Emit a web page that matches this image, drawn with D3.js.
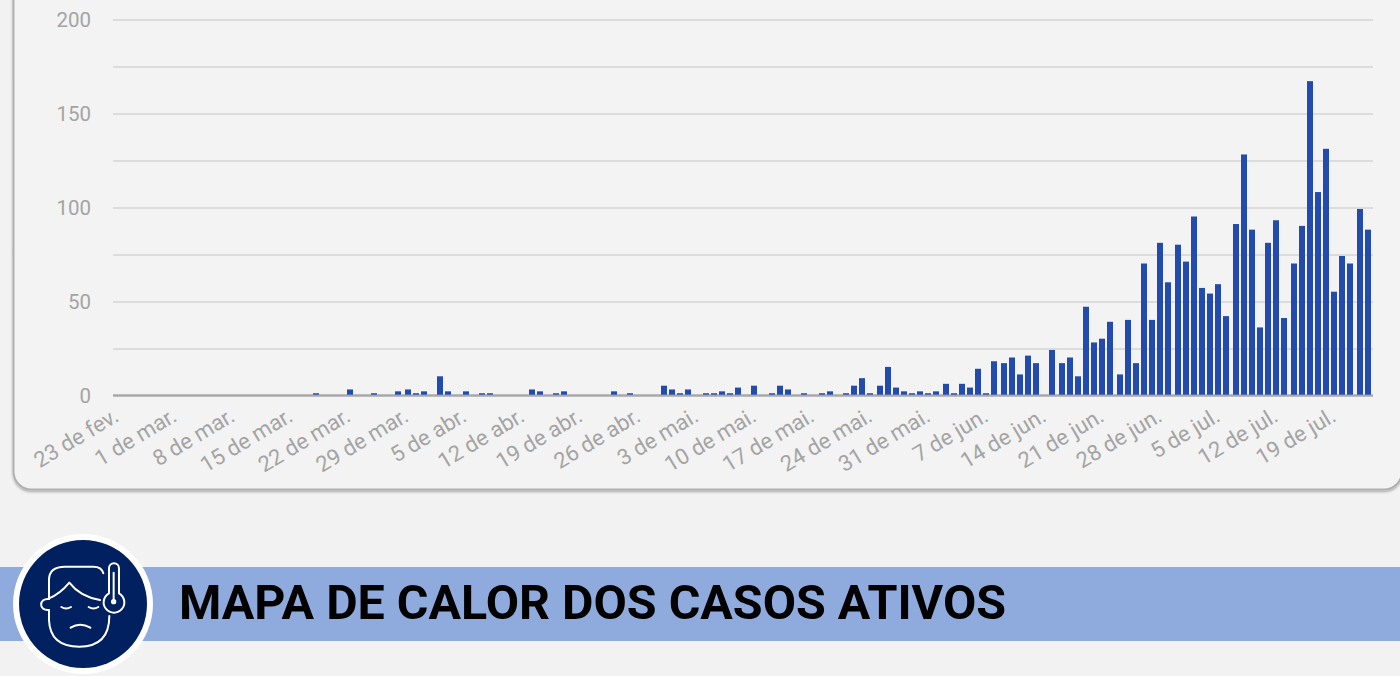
<!DOCTYPE html>
<html>
<head>
<meta charset="utf-8">
<script src="https://cdn.jsdelivr.net/npm/d3@7"></script>
<style>
  html, body { margin: 0; padding: 0; background: #f2f2f2; overflow: hidden; }
  svg { display: block; font-family: Roboto, sans-serif; }
  .axis text { fill: #a4a4a4; }
</style>
</head>
<body>
<div id="chart"></div>
<script>
var widthSvg = 1400,
    heightSvg = 676;

// dias desde 23 de fev. (um valor por dia)
var casos = [
  0, 0, 0, 0, 0, 0, 0, 0, 0, 0, 0, 0, 0, 0, 0, 0, 0, 0, 0, 0, 0, 0, 0, 0,
  1, 0, 0, 0, 3, 0, 0, 1, 0, 0, 2, 3, 1, 2, 0, 10, 2, 0, 2, 0, 1, 1, 0, 0,
  0, 0, 3, 2, 0, 1, 2, 0, 0, 0, 0, 0, 2, 0, 1, 0, 0, 0, 5, 3, 1, 3, 0, 1,
  1, 2, 1, 4, 0, 5, 0, 1, 5, 3, 0, 1, 0, 1, 2, 0, 1, 5, 9, 1, 5, 15, 4, 2,
  1, 2, 1, 2, 6, 1, 6, 4, 14, 1, 18, 17, 20, 11, 21, 17, 0, 24, 17, 20, 10, 47,
  28, 30, 39, 11, 40, 17, 70, 40, 81, 60, 80, 71, 95, 57, 54, 59, 42, 91, 128, 88,
  36, 81, 93, 41, 70, 90, 167, 108, 131, 55, 74, 70, 99, 88
];
var tickLabels = [
  "23 de fev.", "1 de mar.", "8 de mar.", "15 de mar.", "22 de mar.", "29 de mar.",
  "5 de abr.", "12 de abr.", "19 de abr.", "26 de abr.", "3 de mai.", "10 de mai.",
  "17 de mai.", "24 de mai.", "31 de mai.", "7 de jun.", "14 de jun.", "21 de jun.",
  "28 de jun.", "5 de jul.", "12 de jul.", "19 de jul."
];
var yTicks = [0, 50, 100, 150, 200];
var yGrid = [25, 50, 75, 100, 125, 150, 175, 200];
var titulo = "MAPA DE CALOR DOS CASOS ATIVOS";

var svg = d3.select("#chart").append("svg")
    .attr("width", widthSvg)
    .attr("height", heightSvg);

// cartao
var defs = svg.append("defs");
var shadow = defs.append("filter").attr("id", "sombra")
    .attr("x", "-5%").attr("y", "-5%").attr("width", "110%").attr("height", "110%");
shadow.append("feDropShadow")
    .attr("dx", 0).attr("dy", 1.5).attr("stdDeviation", 1.2)
    .attr("flood-color", "#000").attr("flood-opacity", 0.3);

svg.append("rect")
    .attr("x", 13.5).attr("y", -60)
    .attr("width", 1388.5).attr("height", 549.5)
    .attr("rx", 18)
    .attr("fill", "#f3f3f3")
    .attr("stroke", "#b0b0b0")
    .attr("stroke-width", 2)
    .attr("filter", "url(#sombra)");

var days = d3.range(casos.length);

var xScale = d3.scaleBand()
    .domain(days)
    .range([113.1, 1371.7])
    .paddingInner(0.275)
    .paddingOuter(0.14);

var yScale = d3.scaleLinear()
    .domain([0, 200])
    .range([396, 20]);

// a imagem original foi ampliada 2x: as barras caem na grade de 2px
function snap(v) {
    return 2 * Math.round((v - 1) / 2) + 1;
}

// grade
svg.append("g")
    .selectAll("line")
    .data(yGrid)
    .enter()
    .append("line")
    .attr("x1", 113)
    .attr("x2", 1373)
    .attr("y1", function (d) { return yScale(d); })
    .attr("y2", function (d) { return yScale(d); })
    .attr("stroke", "#dcdcdc")
    .attr("stroke-width", 2);

// linha de base
svg.append("line")
    .attr("x1", 113)
    .attr("x2", 1373)
    .attr("y1", yScale(0) - 0.6)
    .attr("y2", yScale(0) - 0.6)
    .attr("stroke", "#a9a9a9")
    .attr("stroke-width", 2.5);

// barras
svg.append("g")
    .selectAll("rect")
    .data(casos)
    .enter()
    .append("rect")
    .attr("x", function (d, i) { return snap(xScale(i)); })
    .attr("y", function (d) { return yScale(d) - 0.9; })
    .attr("width", 6)
    .attr("height", function (d) { return d ? yScale(0) - yScale(d) - 0.4 : 0; })
    .attr("fill", "#234aad");

// eixo y
var yAxis = svg.append("g")
    .attr("class", "axis")
    .call(d3.axisLeft(yScale).tickValues(yTicks).tickSize(0).tickPadding(0))
    .attr("transform", "translate(91,0)")
    .attr("font-family", null)
    .attr("font-size", 20.5);
yAxis.select(".domain").remove();

// eixo x
var tickDays = days.filter(function (d) { return d % 7 === 0; });
var xAxis = svg.append("g")
    .attr("class", "axis")
    .call(d3.axisBottom(xScale)
        .tickValues(tickDays)
        .tickSize(0)
        .tickFormat(function (d) { return tickLabels[d / 7]; }))
    .attr("transform", "translate(0,396)")
    .attr("font-family", null)
    .attr("font-size", 22);
xAxis.select(".domain").remove();
xAxis.selectAll("text")
    .attr("text-anchor", "end")
    .attr("dy", null)
    .attr("y", 0)
    .attr("x", 0)
    .attr("transform", "translate(3,24) rotate(-31)");

// faixa do titulo
svg.append("rect")
    .attr("x", 0).attr("y", 567)
    .attr("width", widthSvg).attr("height", 74)
    .attr("fill", "#8faadc");

svg.append("text")
    .attr("x", 179)
    .attr("y", 619)
    .attr("font-size", 48.4)
    .attr("font-weight", 700)
    .attr("fill", "#000")
    .text(titulo);

// icone
svg.append("circle").attr("cx", 83).attr("cy", 604).attr("r", 70).attr("fill", "#fff");
svg.append("circle").attr("cx", 83).attr("cy", 604).attr("r", 64).attr("fill", "#002060");

var icon = svg.append("g")
    .attr("transform", "translate(0,530) scale(0.3333)")
    .attr("fill", "none")
    .attr("stroke", "#fff")
    .attr("stroke-width", 6)
    .attr("stroke-linecap", "round")
    .attr("stroke-linejoin", "round");
icon.append("path").attr("d", "M147,207 V150 Q147,110 195,110 H280 Q305,110 310,130");
icon.append("path").attr("d", "M147,205 Q180,192 208,158 Q240,200 300,210");
icon.append("path").attr("d", "M147,207 C117,203 114,243 147,240");
icon.append("path").attr("d", "M147,240 V270 Q150,350 238,350 Q328,350 328,258");
icon.append("path").attr("d", "M184,231 Q198,240 213,231");
icon.append("path").attr("d", "M266,231 Q280,240 295,231");
icon.append("path").attr("d", "M212,293 Q240,275 271,293");
icon.append("path").attr("d", "M327,190 V115 A15,15 0 0 1 357,115 V190 A31,31 0 1 1 327,190 Z");
icon.append("path").attr("d", "M341,128 V215");
icon.append("circle").attr("cx", 341).attr("cy", 215).attr("r", 5).attr("fill", "#fff");
</script>
</body>
</html>
